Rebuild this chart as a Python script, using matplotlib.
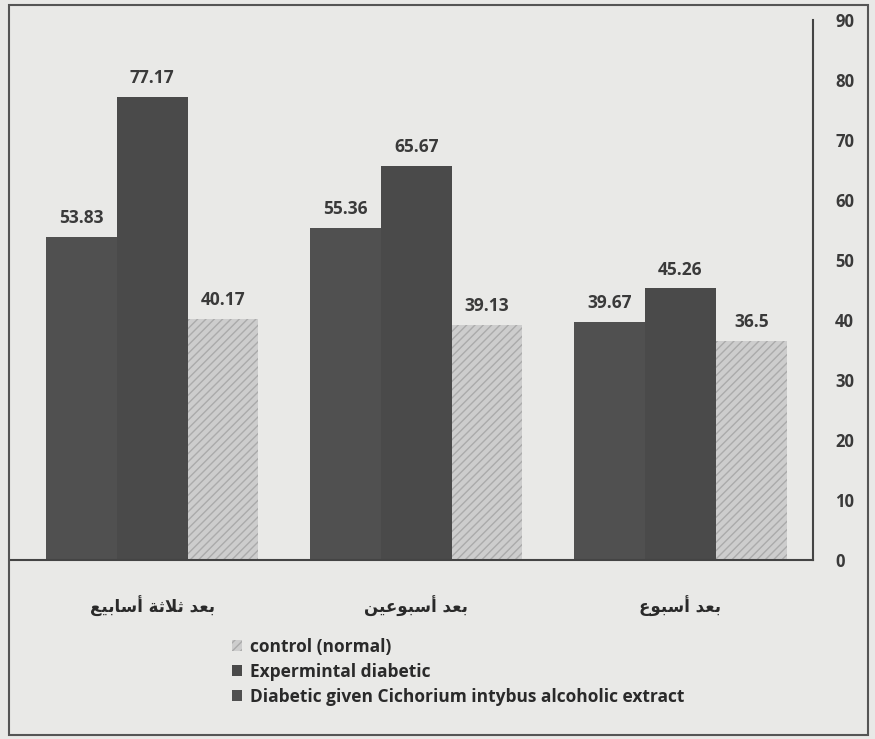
import matplotlib
matplotlib.use("Agg")
import matplotlib.pyplot as plt
import numpy as np
from matplotlib.patches import Rectangle

# ---------------- data ----------------
categories = ["بعد أسبوع", "بعد أسبوعين", "بعد ثلاثة أسابيع"]
series_names = ["control (normal)", "Expermintal diabetic",
                "Diabetic given Cichorium intybus alcoholic extract"]
control = [36.5, 39.13, 40.17]
experimental = [45.26, 65.67, 77.17]
extract = [39.67, 55.36, 53.83]
value_labels_control = ["36.5", "39.13", "40.17"]
value_labels_exp = ["45.26", "65.67", "77.17"]
value_labels_ext = ["39.67", "55.36", "53.83"]
yticks = [0, 10, 20, 30, 40, 50, 60, 70, 80, 90]

# ------------- minimal Arabic shaping (presentation forms) -------------
FORMS = {  # iso, fin, ini, med
    "ب": ("\uFE8F", "\uFE90", "\uFE91", "\uFE92"),
    "ع": ("\uFEC9", "\uFECA", "\uFECB", "\uFECC"),
    "د": ("\uFEA9", "\uFEAA", None, None),
    "ث": ("\uFE99", "\uFE9A", "\uFE9B", "\uFE9C"),
    "ل": ("\uFEDD", "\uFEDE", "\uFEDF", "\uFEE0"),
    "ا": ("\uFE8D", "\uFE8E", None, None),
    "ة": ("\uFE93", "\uFE94", None, None),
    "أ": ("\uFE83", "\uFE84", None, None),
    "س": ("\uFEB1", "\uFEB2", "\uFEB3", "\uFEB4"),
    "ي": ("\uFEF1", "\uFEF2", "\uFEF3", "\uFEF4"),
    "و": ("\uFEED", "\uFEEE", None, None),
    "ن": ("\uFEE5", "\uFEE6", "\uFEE7", "\uFEE8"),
}


def dual(c):
    return c in FORMS and FORMS[c][2] is not None


def shape(text):
    chars = []
    i = 0
    while i < len(text):
        if text[i] == "ل" and i + 1 < len(text) and text[i + 1] in "اأ":
            chars.append("LA" if text[i + 1] == "ا" else "LAH")
            i += 2
        else:
            chars.append(text[i])
            i += 1
    out = []
    for k, c in enumerate(chars):
        prev = chars[k - 1] if k > 0 else None
        nxt = chars[k + 1] if k + 1 < len(chars) else None
        joins_prev = prev is not None and dual(prev)
        if c in ("LA", "LAH"):
            if c == "LA":
                out.append("\uFEFC" if joins_prev else "\uFEFB")
            else:
                out.append("\uFEF8" if joins_prev else "\uFEF7")
            continue
        if c not in FORMS:
            out.append(c)
            continue
        joins_next = dual(c) and nxt is not None and (nxt in FORMS or nxt in ("LA", "LAH"))
        iso, fin, ini, med = FORMS[c]
        if joins_prev and joins_next:
            out.append(med)
        elif joins_prev:
            out.append(fin)
        elif joins_next:
            out.append(ini)
        else:
            out.append(iso)
    return "".join(out)[::-1]


# ---------------- figure ----------------
BG = "#e9e9e7"
fig = plt.figure(figsize=(8.75, 7.39), dpi=100, facecolor=BG)
W, H = 875, 739
ax = fig.add_axes([10 / W, 1 - 560 / H, (813 - 10) / W, (560 - 20) / H])
ax.set_facecolor(BG)

x = np.arange(len(categories))
w = 0.268
dark = "#505050"
dark2 = "#4a4a4a"
light = "#cdcdcd"

b_ctrl = ax.bar(x - w, control, w, color=light, edgecolor="#ababab",
                hatch="////", linewidth=0, label=series_names[0])
b_exp = ax.bar(x, experimental, w, color=dark2, linewidth=0, label=series_names[1])
b_ext = ax.bar(x + w, extract, w, color=dark, linewidth=0, label=series_names[2])

for bars, labs in ((b_ctrl, value_labels_control), (b_exp, value_labels_exp),
                   (b_ext, value_labels_ext)):
    ax.bar_label(bars, labels=labs, padding=7, fontsize=12.5, color="#3a3a3a",
                 fontfamily="Open Sans", fontweight="bold")

ax.set_xlim(2.538, -0.502)
ax.set_ylim(0, 90)
ax.set_yticks(yticks)
ax.yaxis.tick_right()
ax.tick_params(axis="y", length=0, pad=16, labelsize=12, labelcolor="#3a3a3a")
for lbl in ax.get_yticklabels():
    lbl.set_fontweight("bold")
    lbl.set_fontfamily("Open Sans")
ax.set_xticks(x)
ax.set_xticklabels([shape(c) for c in categories], fontfamily="DejaVu Sans",
                   fontsize=12, fontweight="bold", color="#2a2a2a")
ax.tick_params(axis="x", length=0, pad=26)

for s in ("top", "left"):
    ax.spines[s].set_visible(False)
ax.spines["right"].set_color("#444444")
ax.spines["bottom"].set_color("#444444")
ax.spines["right"].set_linewidth(1.5)
ax.spines["bottom"].set_linewidth(1.5)

handles, labels = ax.get_legend_handles_labels()
leg = fig.legend(handles, labels, loc="upper left",
                 bbox_to_anchor=(216 / W, 1 - 622 / H), frameon=False,
                 handlelength=0.6, handleheight=0.6,
                 handletextpad=0.45, labelspacing=0.4,
                 prop={"family": "Open Sans", "size": 12.5, "weight": "bold"})
for t in leg.get_texts():
    t.set_color("#2a2a2a")

# outer frame
fig.patches.append(Rectangle((9 / W, 1 - 735 / H), (868 - 9) / W, (735 - 5) / H,
                             transform=fig.transFigure, fill=False,
                             edgecolor="#555555", linewidth=1.5))

fig.savefig("out.png", dpi=100, facecolor=BG)
